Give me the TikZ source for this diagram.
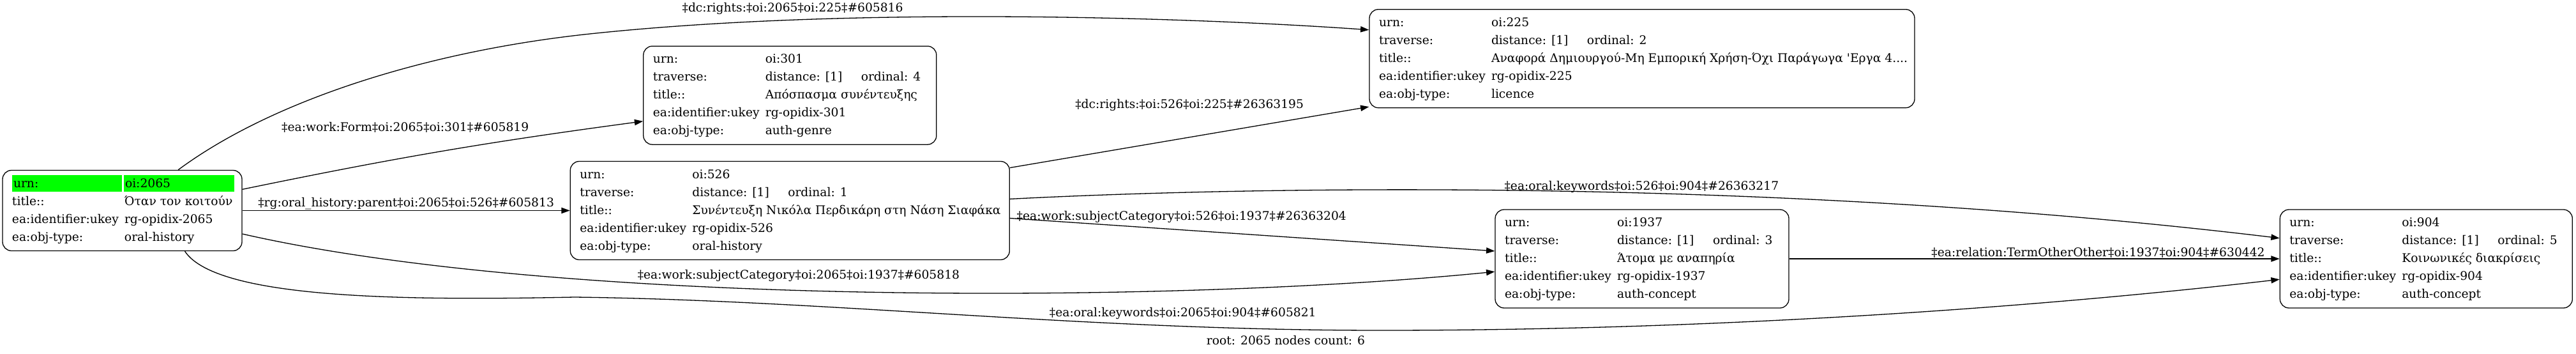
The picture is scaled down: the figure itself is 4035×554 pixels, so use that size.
\documentclass[tikz,border=0pt]{standalone}
\usepackage{fontspec}
\setmainfont{DejaVu Serif}
\usetikzlibrary{positioning,arrows.meta}
\definecolor{urngreen}{HTML}{00FF00}
\newcommand{\kv}[2]{\makebox[176pt][l]{#1}#2}
\newcommand{\trav}[1]{\makebox[150pt][l]{distance: [1]}ordinal: #1}
\newcommand{\hlcell}[2]{{\setlength{\fboxsep}{0pt}\colorbox{urngreen}{\rule[-7pt]{0pt}{26pt}\makebox[#1][l]{\hspace{2pt}#2}}}}
\newcommand{\objtab}[2]{\makebox[#1][l]{\begin{tabular}{@{}l@{}}#2\end{tabular}}}
\tikzset{
  obj/.style={draw, rounded corners=14pt, line width=1.3pt, inner xsep=15pt, inner ysep=7pt, font=\fontsize{18.7}{28}\selectfont},
  rel/.style={draw, line width=1.3pt, -{Triangle[length=13.3pt,width=9.3pt]}},
  lbl/.style={font=\fontsize{18.7}{22}\selectfont, inner sep=0pt},
}
\begin{document}
\begin{tikzpicture}[x=1pt, y=-1pt]
	\useasboundingbox (0,0) rectangle (4035,554);

	\node[obj, minimum width=375pt] (n2065) at (191.5,329.5) {\objtab{345pt}{%
		\hlcell{172pt}{urn:}\hspace{3pt}\hlcell{173pt}{oi:2065}\\
		\kv{title::}{Όταν τον κοιτούν}\\
		\kv{ea:identifier:ukey}{rg-opidix-2065}\\
		\kv{ea:obj-type:}{oral-history}}};
	\node[obj, minimum width=688pt, right=513pt of n2065] (n526) {\objtab{658pt}{%
		\kv{urn:}{oi:526}\\
		\kv{traverse:}{\trav{1}}\\
		\kv{title::}{Συνέντευξη Νικόλα Περδικάρη στη Νάση Σιαφάκα}\\
		\kv{ea:identifier:ukey}{rg-opidix-526}\\
		\kv{ea:obj-type:}{oral-history}}};
	\node[obj, minimum width=459pt, above=25pt of n526] (n301) {\objtab{429pt}{%
		\kv{urn:}{oi:301}\\
		\kv{traverse:}{\trav{4}}\\
		\kv{title::}{Απόσπασμα συνέντευξης}\\
		\kv{ea:identifier:ukey}{rg-opidix-301}\\
		\kv{ea:obj-type:}{auth-genre}}};
	\node[obj, minimum width=460pt] (n1937) at (2572,405) {\objtab{430pt}{%
		\kv{urn:}{oi:1937}\\
		\kv{traverse:}{\trav{3}}\\
		\kv{title::}{Άτομα με αναπηρία}\\
		\kv{ea:identifier:ukey}{rg-opidix-1937}\\
		\kv{ea:obj-type:}{auth-concept}}};
	\node[obj, minimum width=854pt, above=158pt of n1937] (n225) {\objtab{824pt}{%
		\kv{urn:}{oi:225}\\
		\kv{traverse:}{\trav{2}}\\
		\kv{title::}{Αναφορά Δημιουργού-Μη Εμπορική Χρήση-Όχι Παράγωγα \textquotesingle Εργα 4....}\\
		\kv{ea:identifier:ukey}{rg-opidix-225}\\
		\kv{ea:obj-type:}{licence}}};
	\node[obj, minimum width=458pt, right=768pt of n1937] (n904) {\objtab{428pt}{%
		\kv{urn:}{oi:904}\\
		\kv{traverse:}{\trav{5}}\\
		\kv{title::}{Κοινωνικές διακρίσεις}\\
		\kv{ea:identifier:ukey}{rg-opidix-904}\\
		\kv{ea:obj-type:}{auth-concept}}};

	\draw[rel] (n2065.36) .. controls (429,155) and (674,79.5) .. (924,53)
		.. controls (1324,10.6) and (1847,26) .. (n225.174)
		node[lbl, pos=0.25, above=8pt] {‡dc:rights:‡oi:2065‡oi:225‡\#605816};
	\draw[rel] (n2065.10) to[bend left=2]
		node[lbl, pos=0.4, above=39pt] {‡ea:work:Form‡oi:2065‡oi:301‡\#605819} (n301.190);
	\draw[rel] (n2065) -- node[lbl, above=1pt] {‡rg:oral\_history:parent‡oi:2065‡oi:526‡\#605813} (n526);
	\draw[rel] (n2065.349) .. controls (879,480) and (1842,475) .. (n1937.185)
		node[lbl, pos=0.45, above=12.6pt] {‡ea:work:subjectCategory‡oi:2065‡oi:1937‡\#605818};
	\draw[rel] (n2065.327) .. controls (340,470) and (650,470) .. (900,465)
		.. controls (1300,470) and (1700,517) .. (2163,517)
		node[lbl, pos=0.77, above=10pt] {‡ea:oral:keywords‡oi:2065‡oi:904‡\#605821}
		.. controls (2700,517) and (3200,480) .. (n904.188);
	\draw[rel] (n526.11) -- node[lbl, above=41pt] {‡dc:rights:‡oi:526‡oi:225‡\#26363195} (n225.190);
	\draw[rel] (n526.3) .. controls (2000,290) and (2800,280) .. (n904.172)
		node[lbl, pos=0.56, above=0pt] {‡ea:oral:keywords‡oi:526‡oi:904‡\#26363217};
	\draw[rel] (n526.358) -- node[lbl, pos=0.354, above=10pt] {‡ea:work:subjectCategory‡oi:526‡oi:1937‡\#26363204} (n1937.177);
	\draw[rel] (n1937) -- node[lbl, pos=0.63, above=1.5pt] {‡ea:relation:TermOtherOther‡oi:1937‡oi:904‡\#630442} (n904);

	\node[lbl] (rootlbl) at (2014,533) {root: 2065 nodes count: 6};
\end{tikzpicture}
\end{document}
